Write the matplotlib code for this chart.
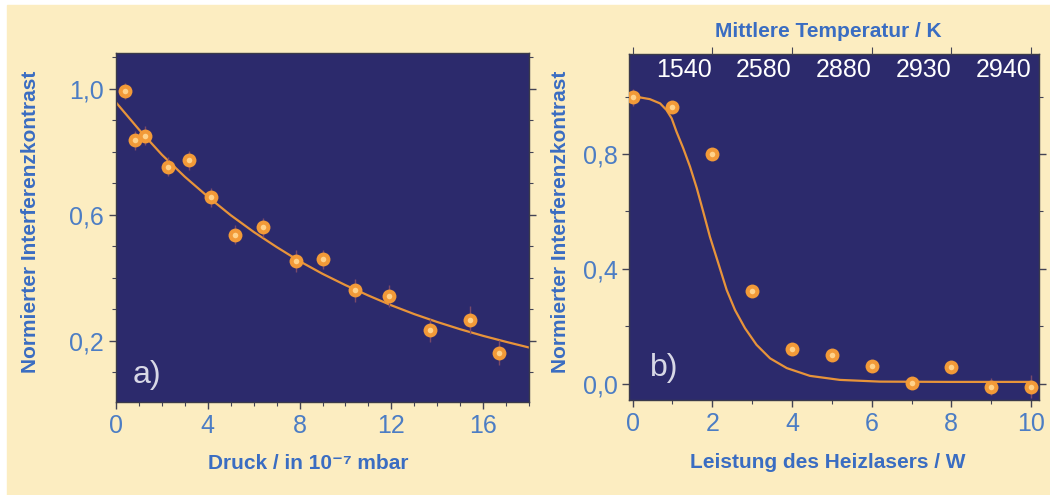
import numpy as np
import matplotlib
matplotlib.use('Agg')
import matplotlib.pyplot as plt
from matplotlib.patches import Rectangle
from matplotlib.ticker import MultipleLocator, FixedLocator

plt.rcParams['font.family'] = ['Liberation Sans', 'DejaVu Sans']

# ---------- Daten a) Druckabhaengigkeit ----------
druck = [0.37, 0.84, 1.28, 2.28, 3.18, 4.15, 5.18, 6.40, 7.84, 9.0,
         10.43, 11.88, 13.70, 15.42, 16.69]
kontrast_a = [0.993, 0.836, 0.850, 0.752, 0.773, 0.655, 0.536, 0.560,
              0.452, 0.458, 0.359, 0.341, 0.232, 0.266, 0.162]
fehler_a = [0.025, 0.03, 0.03, 0.03, 0.03, 0.03, 0.03, 0.03,
            0.035, 0.03, 0.035, 0.035, 0.035, 0.045, 0.04]
fit_a_x = [0, 1, 2, 3, 4, 5, 6, 7, 8, 9, 10, 11, 12, 13, 14, 15, 16, 17, 18]
fit_a_y = [0.956, 0.87, 0.79, 0.72, 0.657, 0.598, 0.545, 0.497, 0.452,
           0.412, 0.376, 0.343, 0.312, 0.284, 0.259, 0.236, 0.215, 0.196, 0.178]

# ---------- Daten b) Heizlaser ----------
leistung = [0, 1, 2, 3, 4, 5, 6, 7, 8, 9, 10]
kontrast_b = [0.997, 0.962, 0.80, 0.323, 0.121, 0.100, 0.064, 0.002,
              0.060, -0.009, -0.009]
fehler_b = [0.03, 0.02, 0.015, 0.015, 0.015, 0.015, 0.015, 0.02,
            0.02, 0.03, 0.04]
fit_b_x = [0, 0.1, 0.43, 0.69, 0.85, 0.98, 1.10, 1.27, 1.44, 1.61, 1.77,
           1.94, 2.15, 2.36, 2.57, 2.82, 3.11, 3.45, 3.87, 4.45, 5.2, 6.21,
           8, 10]
fit_b_y = [1.0, 0.999, 0.991, 0.976, 0.953, 0.924, 0.878, 0.82, 0.756,
           0.681, 0.60, 0.512, 0.42, 0.327, 0.257, 0.194, 0.136, 0.089,
           0.055, 0.028, 0.014, 0.008, 0.007, 0.007]
temp_pos = [2, 4, 6, 8, 10]
temp_labels = ['1540', '2580', '2880', '2930', '2940']

# Farben
creme = '#FCEDC1'
navy = '#2C2A6C'
tickblau = '#4C7DC4'
labelblau = '#3A6DC2'
orange = '#F29A38'
hell = '#FFD28A'
kurve = '#E8943A'

fig = plt.figure(figsize=(10.5, 4.95), dpi=100, facecolor='white')
fig.patches.append(Rectangle((7 / 1050, 0), 1 - 7 / 1050, 1 - 5 / 495,
                             transform=fig.transFigure, color=creme, zorder=-10))

ax1 = fig.add_axes([0.1105, 0.1879, 0.3933, 0.705])
ax2 = fig.add_axes([0.5993, 0.1919, 0.3902, 0.699])


def style(ax):
    ax.set_facecolor(navy)
    for s in ax.spines.values():
        s.set_color('#3a3a4a')
        s.set_linewidth(1.0)
    ax.tick_params(axis='both', which='both', colors='#444455',
                   labelcolor=tickblau, labelsize=18, direction='out')
    ax.tick_params(which='major', length=5, width=1)
    ax.tick_params(which='minor', length=3, width=0.8)
    ax.tick_params(axis='y', right=True, which='both')


def punkte(ax, x, y, err):
    ax.errorbar(x, y, yerr=err, fmt='none', ecolor='#7a4a6a', elinewidth=1.0,
                capsize=0, zorder=3)
    ax.plot(x, y, 'o', color=orange, markersize=10, markeredgewidth=0, zorder=4)
    ax.plot(x, y, 'o', color=hell, markersize=4, markeredgewidth=0, zorder=5)


# ---- a) ----
style(ax1)
ax1.plot(fit_a_x, fit_a_y, color=kurve, linewidth=1.6, zorder=2)
punkte(ax1, druck, kontrast_a, fehler_a)
ax1.set_xlim(0, 18)
ax1.set_ylim(0.005, 1.113)
ax1.xaxis.set_major_locator(MultipleLocator(4))
ax1.xaxis.set_minor_locator(MultipleLocator(1))
ax1.yaxis.set_major_locator(FixedLocator([0.2, 0.6, 1.0]))
ax1.yaxis.set_minor_locator(MultipleLocator(0.1))
ax1.set_yticklabels(['0,2', '0,6', '1,0'])
ax1.set_xlabel('Druck / in 10⁻⁷ mbar', fontsize=15, fontweight='bold', color=labelblau)
ax1.set_ylabel('Normierter Interferenzkontrast', fontsize=15, fontweight='bold',
               color=labelblau)
ax1.xaxis.set_label_coords(0.465, -0.175)
ax1.yaxis.set_label_coords(-0.208, 0.515)
ax1.xaxis.label.set_va('center')
ax1.yaxis.label.set_va('center')
ax1.text(0.04, 0.035, 'a)', transform=ax1.transAxes, fontsize=23,
         color='#D8D8E6', ha='left', va='bottom')

# ---- b) ----
style(ax2)
ax2.plot(fit_b_x, fit_b_y, color=kurve, linewidth=1.6, zorder=2)
punkte(ax2, leistung, kontrast_b, fehler_b)
ax2.set_xlim(-0.085, 10.2)
ax2.set_ylim(-0.056, 1.148)
ax2.xaxis.set_major_locator(MultipleLocator(2))
ax2.xaxis.set_minor_locator(MultipleLocator(1))
ax2.yaxis.set_major_locator(FixedLocator([0.0, 0.4, 0.8]))
ax2.yaxis.set_minor_locator(MultipleLocator(0.2))
ax2.set_yticklabels(['0,0', '0,4', '0,8'])
ax2.set_xlabel('Leistung des Heizlasers / W', fontsize=15, fontweight='bold',
               color=labelblau)
ax2.set_ylabel('Normierter Interferenzkontrast', fontsize=15, fontweight='bold',
               color=labelblau)
ax2.xaxis.set_label_coords(0.484, -0.182)
ax2.yaxis.set_label_coords(-0.169, 0.515)
ax2.xaxis.label.set_va('center')
ax2.yaxis.label.set_va('center')
ax2.text(0.05, 0.05, 'b)', transform=ax2.transAxes, fontsize=23,
         color='#D8D8E6', ha='left', va='bottom')

# obere Achse: mittlere Temperatur
top = ax2.twiny()
top.set_xlim(ax2.get_xlim())
top.xaxis.set_major_locator(FixedLocator([0] + temp_pos))
top.set_xticklabels([''] + temp_labels, ha='right')
top.tick_params(axis='x', colors='#444455', labelcolor='white', labelsize=18,
                length=5, direction='out', pad=-25)
for s in top.spines.values():
    s.set_visible(False)
top.set_xlabel('Mittlere Temperatur / K', fontsize=15, fontweight='bold',
               color=labelblau)
top.xaxis.set_label_coords(0.485, 1.064)
top.xaxis.label.set_va('center')

fig.savefig('out.png', dpi=100, facecolor='white')
